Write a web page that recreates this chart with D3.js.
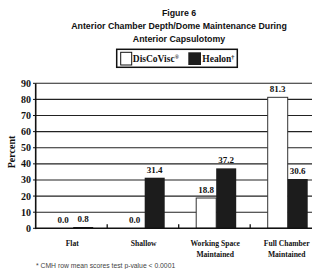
<!DOCTYPE html>
<html>
<head>
<meta charset="utf-8">
<script src="https://cdn.jsdelivr.net/npm/d3@7"></script>
<style>
  body { margin: 0; background: #fff; }
  svg { display: block; }
</style>
</head>
<body>
<div id="chart"></div>
<script>
const categories = ["Flat", "Shallow", "Working Space Maintained", "Full Chamber Maintained"];
const categoryLines = [["Flat"], ["Shallow"], ["Working Space", "Maintained"], ["Full Chamber", "Maintained"]];
const series = ["DisCoVisc", "Healon"];
const discoviscValues = [0.0, 0.0, 18.8, 81.3];
const healonValues = [0.8, 31.4, 37.2, 30.6];
const yTicks = [0, 10, 20, 30, 40, 50, 60, 70, 80, 90];

const width = 312;
const height = 269;
const serif = "'Liberation Serif', 'Times New Roman', serif";
const sans = "'Liberation Sans', Arial, sans-serif";

const svg = d3.select("#chart")
  .append("svg")
  .attr("width", width)
  .attr("height", height);

// title
const titleLines = ["Figure 6", "Anterior Chamber Depth/Dome Maintenance During", "Anterior Capsulotomy"];
svg.selectAll(".title")
  .data(titleLines)
  .enter()
  .append("text")
  .attr("x", 179)
  .attr("y", (d, i) => 16 + i * 13)
  .attr("text-anchor", "middle")
  .style("font-family", sans)
  .style("font-weight", "bold")
  .style("font-size", "8.8px")
  .style("fill", "#111")
  .text(d => d);

// legend
const legend = svg.append("g");
legend.append("rect")
  .attr("x", 116.7).attr("y", 49.3)
  .attr("width", 120.6).attr("height", 18)
  .attr("fill", "#fff").attr("stroke", "#111").attr("stroke-width", 1.5);
legend.append("rect")
  .attr("x", 120.7).attr("y", 52.3).attr("width", 11).attr("height", 12.7)
  .attr("fill", "#fff").attr("stroke", "#111").attr("stroke-width", 1);
legend.append("text")
  .attr("x", 132.8).attr("y", 62.3)
  .style("font-family", serif).style("font-weight", "bold").style("font-size", "9.5px")
  .style("fill", "#111")
  .html("DisCoVisc<tspan font-size='5.5px' dy='-3'>®</tspan>");
legend.append("rect")
  .attr("x", 188.3).attr("y", 52.3).attr("width", 12.7).attr("height", 12.7)
  .attr("fill", "#1c1c1c");
legend.append("text")
  .attr("x", 202.3).attr("y", 62.3)
  .style("font-family", serif).style("font-weight", "bold").style("font-size", "9.5px")
  .style("fill", "#111")
  .html("Healon<tspan font-size='6px' dy='-3'>†</tspan>");

// scales
const y = d3.scaleLinear().domain([0, 90]).range([228.3, 83.3]);
const x0 = d3.scaleBand().domain(categories).range([35.7, 321.7]).padding(0);
const x1 = d3.scaleBand().domain(series).range([17.5, 57.5]).padding(0);

// gridlines
svg.selectAll(".grid")
  .data(yTicks.filter(d => d > 0))
  .enter()
  .append("line")
  .attr("x1", 35.7).attr("x2", 321.7)
  .attr("y1", d => y(d)).attr("y2", d => y(d))
  .attr("stroke", "#222").attr("stroke-width", 1.1);

// bars
const groups = svg.selectAll(".group")
  .data(categories)
  .enter()
  .append("g")
  .attr("transform", d => `translate(${x0(d)},0)`);

const pairs = (d, i) => [
  { s: "DisCoVisc", v: discoviscValues[i] },
  { s: "Healon", v: healonValues[i] }
];

groups.selectAll("rect")
  .data(pairs)
  .enter()
  .append("rect")
  .attr("x", d => x1(d.s))
  .attr("y", d => y(d.v))
  .attr("width", x1.bandwidth())
  .attr("height", d => y(0) - y(d.v))
  .attr("fill", d => d.s === "DisCoVisc" ? "#fff" : "#1c1c1c")
  .attr("stroke", d => d.s === "DisCoVisc" ? "#333" : "none")
  .attr("stroke-width", 1);

groups.selectAll(".val")
  .data(pairs)
  .enter()
  .append("text")
  .attr("x", d => x1(d.s) + x1.bandwidth() / 2)
  .attr("y", d => y(d.v) - 5)
  .attr("text-anchor", "middle")
  .style("font-family", serif).style("font-weight", "bold").style("font-size", "9px")
  .style("fill", "#111")
  .text(d => d.v.toFixed(1));

// axes lines
svg.append("line")
  .attr("x1", 35.7).attr("x2", 35.7)
  .attr("y1", y(90)).attr("y2", y(0) + 0.8)
  .attr("stroke", "#111").attr("stroke-width", 1.6);
svg.append("line")
  .attr("x1", 35).attr("x2", 321.7)
  .attr("y1", y(0)).attr("y2", y(0))
  .attr("stroke", "#111").attr("stroke-width", 1.6);

// category separators
svg.selectAll(".sep")
  .data(categories.slice(1))
  .enter()
  .append("line")
  .attr("x1", d => x0(d)).attr("x2", d => x0(d))
  .attr("y1", y(0) - 4).attr("y2", y(0))
  .attr("stroke", "#111").attr("stroke-width", 1.3);

// y tick labels
svg.selectAll(".ytick")
  .data(yTicks)
  .enter()
  .append("text")
  .attr("x", 31)
  .attr("y", d => y(d))
  .attr("dy", "0.35em")
  .attr("text-anchor", "end")
  .style("font-family", serif).style("font-weight", "bold").style("font-size", "10px")
  .style("fill", "#111")
  .text(d => d);

svg.selectAll(".ytickmark")
  .data(yTicks)
  .enter()
  .append("line")
  .attr("x1", 33).attr("x2", 35.7)
  .attr("y1", d => y(d)).attr("y2", d => y(d))
  .attr("stroke", "#111").attr("stroke-width", 1);

// y label
svg.append("text")
  .attr("transform", "translate(15,152) rotate(-90)")
  .attr("text-anchor", "middle")
  .style("font-family", serif).style("font-weight", "bold").style("font-size", "10px")
  .style("fill", "#111")
  .text("Percent");

// category labels
svg.selectAll(".cat")
  .data(categories)
  .enter()
  .append("text")
  .attr("x", d => x0(d) + 36.5)
  .attr("y", 246)
  .attr("text-anchor", "middle")
  .style("font-family", serif).style("font-weight", "bold").style("font-size", "7.6px")
  .style("fill", "#111")
  .selectAll("tspan")
  .data((d, i) => categoryLines[i])
  .enter()
  .append("tspan")
  .attr("x", function () { return d3.select(this.parentNode).attr("x"); })
  .attr("dy", (d, i) => i === 0 ? 0 : 10.5)
  .text(d => d);

// footnote
svg.append("text")
  .attr("x", 36).attr("y", 267.5)
  .style("font-family", sans).style("font-size", "6.8px")
  .style("fill", "#444")
  .text("* CMH row mean scores test p-value < 0.0001");
</script>
</body>
</html>
